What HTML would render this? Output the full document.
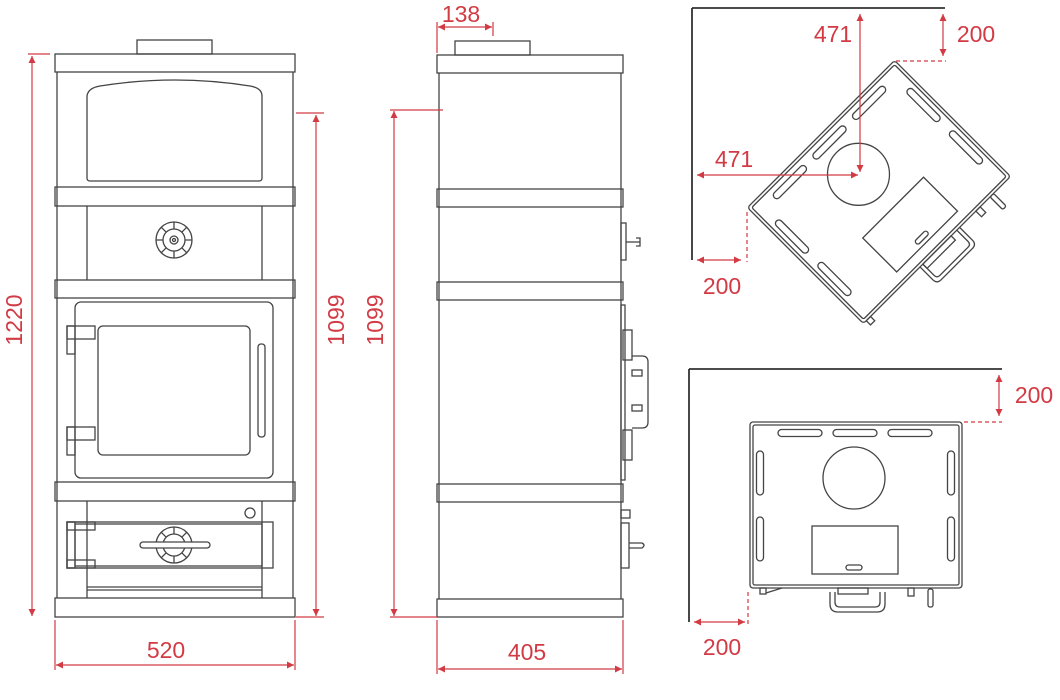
<!DOCTYPE html>
<html><head><meta charset="utf-8"><style>
html,body{margin:0;padding:0;background:#fff;}
svg{display:block}
text{font-family:"Liberation Sans",sans-serif;font-size:23px;fill:#d23a44;}
</style></head><body>
<svg width="1060" height="700" viewBox="0 0 1060 700" xmlns="http://www.w3.org/2000/svg">
<defs>
<marker id="a" viewBox="0 0 10 10" refX="10" refY="5" markerWidth="9" markerHeight="7" orient="auto-start-reverse" markerUnits="userSpaceOnUse"><path d="M0,0 L10,5 L0,10 z" fill="#d23a44"/></marker>
<g id="slotH"><rect x="-22" y="-3.5" width="44" height="7" rx="3.5"/></g>
<g id="spokes"><path d="M0,-18 L0,-11 M0,18 L0,11 M-18,0 L-11,0 M18,0 L11,0 M-12.7,-12.7 L-7.8,-7.8 M12.7,12.7 L7.8,7.8 M-12.7,12.7 L-7.8,7.8 M12.7,-12.7 L7.8,-7.8"/></g>
</defs>
<g fill="none" stroke="#444" stroke-width="1.3">
<!-- FRONT VIEW -->
<rect x="137" y="40" width="75" height="14"/>
<rect x="55" y="54" width="240" height="18"/>
<line x1="57" y1="72" x2="57" y2="598"/><line x1="293" y1="72" x2="293" y2="598"/>
<line x1="87" y1="206" x2="87" y2="280"/><line x1="262" y1="206" x2="262" y2="280"/>
<line x1="87" y1="501" x2="87" y2="598"/><line x1="262" y1="501" x2="262" y2="598"/>
<path d="M87,96 Q88,88 100,86 Q175,74 250,86 Q262,88 262,96 L262,178 Q262,181 259,181 L90,181 Q87,181 87,178 Z"/>
<rect x="55" y="187" width="240" height="19"/>
<circle cx="174" cy="240" r="18"/><circle cx="174" cy="240" r="11"/><circle cx="174" cy="240" r="4"/><circle cx="174" cy="240" r="1.5"/>
<use href="#spokes" x="174" y="240"/>
<rect x="55" y="280" width="240" height="18"/>
<rect x="75" y="302" width="198" height="176" rx="6"/>
<rect x="98" y="326" width="152" height="129" rx="5"/>
<rect x="258" y="344" width="7" height="93" rx="3"/>
<rect x="67" y="326" width="28" height="13"/><rect x="67" y="326" width="8" height="28"/>
<rect x="67" y="427" width="28" height="13"/><rect x="67" y="427" width="8" height="28"/>
<rect x="55" y="482" width="240" height="19"/>
<circle cx="250" cy="513" r="5"/>
<rect x="67" y="522" width="206" height="46"/><rect x="75" y="524" width="187" height="42"/>
<rect x="67" y="522" width="28" height="8"/><rect x="67" y="560" width="28" height="8"/><rect x="67" y="522" width="8" height="46"/>
<circle cx="174" cy="545" r="18"/><circle cx="174" cy="545" r="11"/>
<use href="#spokes" x="174" y="545"/>
<rect x="140" y="542" width="70" height="6" rx="3" fill="#fff"/>
<line x1="87" y1="587" x2="262" y2="587"/><line x1="87" y1="590" x2="262" y2="590"/>
<rect x="55" y="598" width="240" height="19"/>
<!-- SIDE VIEW -->
<rect x="455" y="41" width="75" height="14"/>
<rect x="437" y="55" width="186" height="18"/>
<line x1="439" y1="73" x2="439" y2="599"/><line x1="621" y1="73" x2="621" y2="599"/>
<rect x="437" y="189" width="186" height="18"/>
<rect x="437" y="282" width="186" height="18"/>
<rect x="437" y="484" width="186" height="18"/>
<rect x="437" y="599" width="186" height="18"/>
<rect x="621" y="223" width="5" height="37"/><line x1="626" y1="242" x2="640" y2="242"/><path d="M636,238 L640,238 L640,246 L636,246"/>
<rect x="621" y="305" width="4" height="175"/>
<rect x="623" y="330" width="9" height="30"/><rect x="623" y="430" width="9" height="30"/>
<path d="M632,356 L642,356 Q648,356 648,362 L648,422 Q648,428 642,428 L632,428"/><rect x="632" y="370" width="10" height="6"/><rect x="632" y="405" width="10" height="6"/>
<rect x="621" y="510" width="9" height="8"/><rect x="621" y="523" width="8" height="45"/>
<path d="M629,543 L642,543 Q646,545 642,548 L629,548"/>
<!-- TOP VIEW ROTATED -->
<path d="M692,8 L945,8 M692,8 L692,260" stroke="#333" stroke-width="1.8"/>
<g transform="translate(879,192) rotate(-45)">
<rect x="-104" y="-82" width="208" height="164" rx="3"/>
<rect x="-101" y="-79" width="202" height="158" rx="2"/>
<use href="#slotH" x="-56" y="-70"/><use href="#slotH" x="0" y="-70"/><use href="#slotH" x="56" y="-70"/>
<g transform="rotate(90)"><use href="#slotH" x="-30" y="93"/><use href="#slotH" x="30" y="93"/><use href="#slotH" x="-30" y="-93"/><use href="#slotH" x="30" y="-93"/></g>
<circle cx="-2" cy="-27" r="31"/>
<rect x="-44" y="21" width="86" height="48"/>
<rect x="-10" y="60" width="16" height="5" rx="2.5"/>
<path d="M-24,82 L-24,100 Q-24,106 -18,106 L26,106 Q32,106 32,100 L32,82"/><path d="M-20,82 L-20,98 Q-20,102 -16,102 L24,102 Q28,102 28,98 L28,82"/>
<rect x="-20" y="82" width="40" height="6"/>
<rect x="55" y="82" width="6" height="8"/><rect x="75" y="82" width="5" height="18" rx="2"/>
<rect x="-100" y="82" width="6" height="6"/>
</g>
<!-- TOP VIEW STRAIGHT -->
<path d="M689,369 L1002,369 M689,369 L689,622" stroke="#333" stroke-width="1.8"/>
<rect x="750" y="422" width="212" height="166" rx="3"/>
<rect x="753" y="425" width="206" height="160" rx="2"/>
<use href="#slotH" x="800" y="433"/><use href="#slotH" x="855" y="433"/><use href="#slotH" x="910" y="433"/>
<g transform="translate(760,473) rotate(90)"><use href="#slotH"/></g>
<g transform="translate(760,539) rotate(90)"><use href="#slotH"/></g>
<g transform="translate(951,473) rotate(90)"><use href="#slotH"/></g>
<g transform="translate(951,539) rotate(90)"><use href="#slotH"/></g>
<circle cx="854" cy="478" r="31"/>
<rect x="812" y="526" width="86" height="48"/>
<rect x="846" y="565" width="16" height="5" rx="2.5"/>
<path d="M830,592 L830,604 Q830,612 838,612 L877,612 Q885,612 885,604 L885,592"/><path d="M835,592 L835,602 Q835,607 840,607 L875,607 Q880,607 880,602 L880,592"/>
<rect x="838" y="588" width="30" height="6"/>
<rect x="908" y="588" width="6" height="8"/><rect x="928" y="589" width="5" height="18" rx="2"/>
<rect x="760" y="588" width="6" height="6"/><line x1="766" y1="593" x2="782" y2="588"/>
</g>
<!-- DIMENSIONS -->
<g stroke="#d23a44" stroke-width="1.2" fill="none">
<line x1="32" y1="56" x2="32" y2="616" marker-start="url(#a)" marker-end="url(#a)"/>
<line x1="28" y1="54" x2="50" y2="54"/>
<line x1="316" y1="115" x2="316" y2="616" marker-start="url(#a)" marker-end="url(#a)"/>
<line x1="296" y1="113" x2="324" y2="113"/><line x1="296" y1="617" x2="324" y2="617"/>
<line x1="55" y1="620" x2="55" y2="670"/><line x1="295" y1="620" x2="295" y2="670"/>
<line x1="56" y1="665" x2="294" y2="665" marker-start="url(#a)" marker-end="url(#a)"/>
<line x1="394" y1="111" x2="394" y2="616" marker-start="url(#a)" marker-end="url(#a)"/>
<line x1="390" y1="110" x2="443" y2="110"/><line x1="390" y1="617" x2="437" y2="617"/>
<line x1="437" y1="22" x2="437" y2="53"/><line x1="493" y1="22" x2="493" y2="36"/>
<line x1="438" y1="27" x2="492" y2="27" marker-start="url(#a)" marker-end="url(#a)"/>
<line x1="437" y1="620" x2="437" y2="674"/><line x1="623" y1="620" x2="623" y2="674"/>
<line x1="438" y1="669" x2="622" y2="669" marker-start="url(#a)" marker-end="url(#a)"/>
<line x1="943" y1="14" x2="943" y2="56" marker-start="url(#a)" marker-end="url(#a)"/>
<line x1="896" y1="61" x2="946" y2="61" stroke-dasharray="4,3"/>
<line x1="860" y1="14" x2="860" y2="172" marker-start="url(#a)" marker-end="url(#a)"/>
<line x1="697" y1="175" x2="858" y2="175" marker-start="url(#a)" marker-end="url(#a)"/>
<line x1="747" y1="212" x2="747" y2="262" stroke-dasharray="4,3"/>
<line x1="697" y1="260" x2="741" y2="260" marker-start="url(#a)" marker-end="url(#a)"/>
<line x1="999" y1="375" x2="999" y2="416" marker-start="url(#a)" marker-end="url(#a)"/>
<line x1="964" y1="422" x2="1002" y2="422" stroke-dasharray="4,3"/>
<line x1="748" y1="592" x2="748" y2="625" stroke-dasharray="4,3"/>
<line x1="694" y1="622" x2="745" y2="622" marker-start="url(#a)" marker-end="url(#a)"/>
</g>
<text x="0" y="0" text-anchor="middle" transform="translate(22,320) rotate(-90)">1220</text>
<text x="0" y="0" text-anchor="middle" transform="translate(344,320) rotate(-90)">1099</text>
<text x="0" y="0" text-anchor="middle" transform="translate(383,320) rotate(-90)">1099</text>
<text x="166" y="658" text-anchor="middle">520</text>
<text x="527" y="660" text-anchor="middle">405</text>
<text x="461" y="22" text-anchor="middle">138</text>
<text x="976" y="42" text-anchor="middle">200</text>
<text x="833" y="42" text-anchor="middle">471</text>
<text x="734" y="167" text-anchor="middle">471</text>
<text x="722" y="294" text-anchor="middle">200</text>
<text x="1034" y="403" text-anchor="middle">200</text>
<text x="722" y="655" text-anchor="middle">200</text>
</svg>
</body></html>
